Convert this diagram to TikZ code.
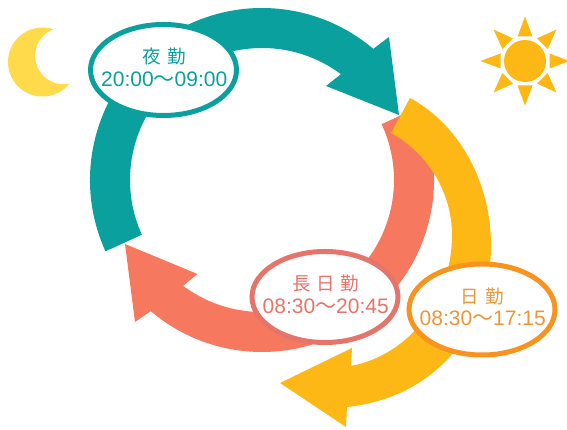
\documentclass[tikz,border=0pt]{standalone}
\usepackage{fontspec}
\setmainfont{Liberation Sans}
\newfontfamily\cjk{Noto Sans CJK JP}
\usetikzlibrary{shapes.geometric,calc}
\definecolor{tealc}{HTML}{0AA09E}
\definecolor{salmonc}{HTML}{F5785F}
\definecolor{yellowc}{HTML}{FDB816}
\definecolor{moonc}{HTML}{FFDA4B}
\definecolor{salmonl}{HTML}{E5756A}
\definecolor{orangel}{HTML}{F7931E}
\definecolor{orangetx}{HTML}{EB9639}
\tikzset{
  shiftbadge/.style={ellipse,draw=#1,line width=5pt,fill=white,minimum width=146pt,minimum height=91pt,inner sep=0pt},
  badgetext/.style={align=center,inner sep=0pt,text=#1,font=\fontsize{21}{22.5}\selectfont},
}
\newcommand{\jp}[1]{{\cjk\fontsize{18.5}{22.5}\selectfont #1}}
\newcommand{\wv}{{\cjk 〜}}
\begin{document}
\begin{tikzpicture}[x=1pt,y=1pt]
\useasboundingbox (0,0) rectangle (567,430);
% moon
\fill[moonc] (42.5,368) circle[radius=34.5];
\fill[white] (63.5,374.2) circle[radius=28.3];
% sun
\fill[yellowc] (525,369) circle[radius=21];
\foreach \a in {0,45,...,315}
  \fill[yellowc,shift={(525,369)},rotate=\a] (44.5,0) -- (24.5,7.5) -- (24.5,-7.5) -- cycle;
% salmon arrow
\fill[salmonc] (262,250) ++(25:172) arc[start angle=25,end angle=-130.3,radius=172]
  -- (135,108) -- (125,186) -- (197.5,156)
  -- ($(262,250)+(-126.7:132)$) arc[start angle=-126.7,end angle=25,radius=132] -- cycle;
% teal arrow
\fill[tealc] (262,250) ++(204.5:172) arc[start angle=204.5,end angle=49.7,radius=172]
  -- (389,393) -- (399,315) -- (326,344)
  -- ($(262,250)+(53.3:132)$) arc[start angle=53.3,end angle=204.5,radius=132] -- cycle;
% yellow arrow
\fill[yellowc] (410,332) .. controls (462,304) and (491,244) .. (491,185)
  .. controls (491,98) and (433,32) .. (347,23)
  -- (346,3) -- (280,47) -- (352,82) -- (351,64)
  .. controls (412,76) and (452,133) .. (452,195)
  .. controls (452,237) and (428,277) .. (391,297) -- cycle;
% badges
\node[shiftbadge=tealc] (night) at (163.5,360) {};
\node[shiftbadge=salmonl] (long) at (325,133) {};
\node[shiftbadge=orangel] (day) at (482,120.5) {};
\node[badgetext=tealc] (nighttext) at ($(night)+(0.7,2.5)$) {\jp{夜\hspace{6.5pt}勤}\\20:00\wv09:00};
\node[badgetext=salmonl] (longtext) at ($(long)+(0.7,2.5)$) {\jp{長\hspace{5.5pt}日\hspace{5.5pt}勤}\\08:30\wv20:45};
\node[badgetext=orangetx] (daytext) at ($(day)+(0.7,2.5)$) {\jp{日\hspace{6.5pt}勤}\\08:30\wv17:15};
\end{tikzpicture}
\end{document}
